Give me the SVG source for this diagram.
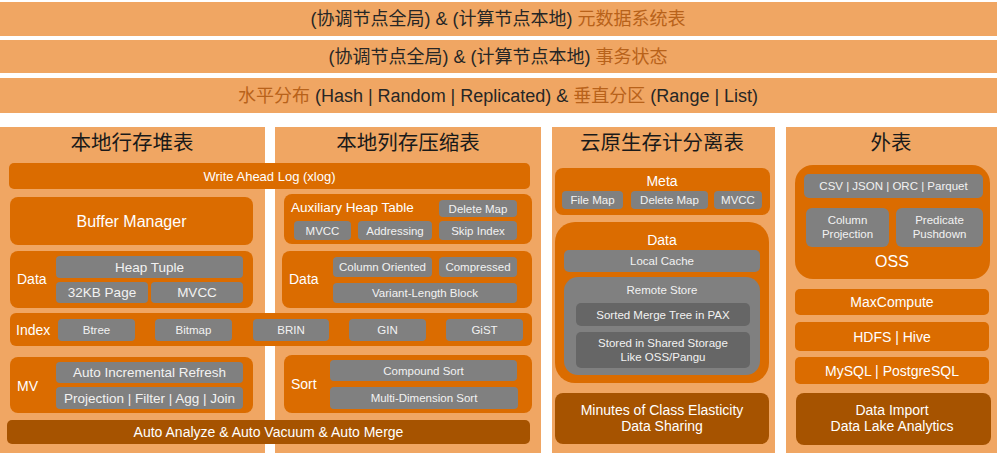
<svg xmlns="http://www.w3.org/2000/svg" width="999" height="455" viewBox="0 0 999 455">
<style>
text{font-family:"Liberation Sans","Noto Sans CJK SC",sans-serif;dominant-baseline:central;text-anchor:middle}
.ban{fill:#F0A663}
.panel{fill:#F0A663}
.dk{fill:#DB6C00}
.br{fill:#A65300}
.gr{fill:#808080}
.gr2{fill:#666666}
.bt{font-size:18px;fill:#262626}
.hl{fill:#B8621A}
.ttl{font-size:20.5px;fill:#1a1a1a}
.w{fill:#ffffff}
.g{fill:#f2f2f2}
.s11{font-size:11.5px}
.s13{font-size:13.5px}
.s14{font-size:14px}
.lab{text-anchor:start}
</style>
<g id="banner-meta">
<rect class="ban" x="0" y="2" width="997" height="34"/>
<text class="bt" x="498" y="19">(协调节点全局) &amp; (计算节点本地) <tspan class="hl">元数据系统表</tspan></text>
</g>
<g id="banner-tx">
<rect class="ban" x="0" y="40" width="997" height="33"/>
<text class="bt" x="498" y="57">(协调节点全局) &amp; (计算节点本地) <tspan class="hl">事务状态</tspan></text>
</g>
<g id="banner-dist">
<rect class="ban" x="0" y="78" width="997" height="35"/>
<text class="bt" x="498" y="96"><tspan class="hl">水平分布</tspan> (Hash | Random | Replicated) &amp; <tspan class="hl">垂直分区</tspan> (Range | List)</text>
</g>

<g id="col-row-heap">
<rect class="panel" x="0" y="127" width="265" height="326"/>
<text class="ttl" x="132" y="142">本地行存堆表</text>
</g>
<g id="col-column-store">
<rect class="panel" x="275" y="127" width="266" height="326"/>
<text class="ttl" x="408" y="142">本地列存压缩表</text>
</g>
<g id="col-cloud">
<rect class="panel" x="552" y="127" width="223" height="326"/>
<text class="ttl" x="662" y="142">云原生存计分离表</text>
</g>
<g id="col-external">
<rect class="panel" x="786" y="127" width="211" height="326"/>
<text class="ttl" x="891" y="142">外表</text>
</g>

<g id="wal">
<rect class="dk" x="9" y="163" width="521" height="26" rx="5"/>
<text class="w" x="269.5" y="176" font-size="13">Write Ahead Log (xlog)</text>
</g>
<g id="buffer-manager">
<rect class="dk" x="10" y="197" width="243" height="48" rx="8"/>
<text class="w" x="131.5" y="221" font-size="16">Buffer Manager</text>
</g>
<g id="row-data">
<rect class="dk" x="10" y="251" width="243" height="57" rx="8"/>
<text class="w s14 lab" x="17" y="279">Data</text>
<rect class="gr" x="56" y="256" width="187" height="22" rx="4"/>
<text class="g s13" x="149.5" y="267">Heap Tuple</text>
<rect class="gr" x="56" y="282" width="92" height="21" rx="4"/>
<text class="g s13" x="102" y="292.5">32KB Page</text>
<rect class="gr" x="151" y="282" width="92" height="21" rx="4"/>
<text class="g s13" x="197" y="292.5">MVCC</text>
</g>
<g id="index">
<rect class="dk" x="10" y="313" width="522" height="33" rx="6"/>
<text class="w s14 lab" x="16" y="330">Index</text>
<rect class="gr" x="58" y="319" width="77" height="22" rx="4"/>
<text class="g s11" x="96.5" y="330">Btree</text>
<rect class="gr" x="155" y="319" width="77" height="22" rx="4"/>
<text class="g s11" x="193.5" y="330">Bitmap</text>
<rect class="gr" x="253" y="319" width="76" height="22" rx="4"/>
<text class="g s11" x="291" y="330">BRIN</text>
<rect class="gr" x="349" y="319" width="77" height="22" rx="4"/>
<text class="g s11" x="387.5" y="330">GIN</text>
<rect class="gr" x="446" y="319" width="77" height="22" rx="4"/>
<text class="g s11" x="484.5" y="330">GiST</text>
</g>
<g id="mv">
<rect class="dk" x="10" y="357" width="243" height="56" rx="8"/>
<text class="w s14 lab" x="17" y="386">MV</text>
<rect class="gr" x="56" y="362" width="187" height="21" rx="4"/>
<text class="g s13" x="149.5" y="372.5">Auto Incremental Refresh</text>
<rect class="gr" x="56" y="387" width="187" height="22" rx="4"/>
<text class="g s13" x="149.5" y="398">Projection | Filter | Agg | Join</text>
</g>
<g id="auto-analyze">
<rect class="br" x="7" y="420" width="523" height="24" rx="5"/>
<text class="w s14" x="268.5" y="432">Auto Analyze &amp; Auto Vacuum &amp; Auto Merge</text>
</g>

<g id="aux-heap">
<rect class="dk" x="284" y="194" width="248" height="50" rx="8"/>
<text class="w s13 lab" x="291" y="207">Auxiliary Heap Table</text>
<rect class="gr" x="439" y="200" width="78" height="17" rx="4"/>
<text class="g s11" x="478" y="208.5">Delete Map</text>
<rect class="gr" x="294" y="221" width="57" height="19" rx="4"/>
<text class="g s11" x="322.5" y="230.5">MVCC</text>
<rect class="gr" x="358" y="221" width="74" height="19" rx="4"/>
<text class="g s11" x="395" y="230.5">Addressing</text>
<rect class="gr" x="439" y="221" width="78" height="19" rx="4"/>
<text class="g s11" x="478" y="230.5">Skip Index</text>
</g>
<g id="col-data">
<rect class="dk" x="282" y="251" width="250" height="57" rx="8"/>
<text class="w s14 lab" x="289" y="279">Data</text>
<rect class="gr" x="333" y="257" width="99" height="20" rx="4"/>
<text class="g s11" x="382.5" y="267">Column Oriented</text>
<rect class="gr" x="439" y="257" width="78" height="20" rx="4"/>
<text class="g s11" x="478" y="267">Compressed</text>
<rect class="gr" x="333" y="283" width="184" height="20" rx="4"/>
<text class="g s11" x="425" y="293">Variant-Length Block</text>
</g>
<g id="sort">
<rect class="dk" x="284" y="355" width="248" height="58" rx="8"/>
<text class="w s14 lab" x="291" y="384">Sort</text>
<rect class="gr" x="330" y="360" width="187" height="21" rx="4"/>
<text class="g s11" x="423.5" y="370.5">Compound Sort</text>
<rect class="gr" x="330" y="387" width="188" height="22" rx="4"/>
<text class="g s11" x="424" y="398">Multi-Dimension Sort</text>
</g>

<g id="meta">
<rect class="dk" x="555" y="168" width="215" height="47" rx="8"/>
<text class="w s14" x="662" y="181">Meta</text>
<rect class="gr" x="562" y="191" width="61" height="18" rx="4"/>
<text class="g s11" x="592.5" y="200">File Map</text>
<rect class="gr" x="631" y="191" width="77" height="18" rx="4"/>
<text class="g s11" x="669.5" y="200">Delete Map</text>
<rect class="gr" x="714" y="191" width="48" height="18" rx="4"/>
<text class="g s11" x="738" y="200">MVCC</text>
</g>
<g id="cloud-data">
<rect class="dk" x="555" y="222" width="214" height="161" rx="20"/>
<text class="w s14" x="662" y="240">Data</text>
<rect class="gr" x="564" y="250" width="196" height="22" rx="5"/>
<text class="g s11" x="662" y="261">Local Cache</text>
<rect class="gr" x="564" y="277" width="196" height="98" rx="14"/>
<text class="g s11" x="662" y="290">Remote Store</text>
<rect class="gr2" x="576" y="303" width="174" height="23" rx="5"/>
<text class="g s11" x="663" y="314.5">Sorted Merge Tree in PAX</text>
<rect class="gr2" x="576" y="332" width="174" height="36" rx="5"/>
<text class="g s11" x="663" y="343">Stored in Shared Storage</text>
<text class="g s11" x="663" y="357">Like OSS/Pangu</text>
</g>
<g id="elasticity">
<rect class="br" x="555" y="393" width="214" height="51" rx="8"/>
<text class="w s14" x="662" y="410">Minutes of Class Elasticity</text>
<text class="w s14" x="662" y="426">Data Sharing</text>
</g>

<g id="oss">
<rect class="dk" x="795" y="165" width="195" height="114" rx="18"/>
<rect class="gr" x="804" y="174" width="179" height="24" rx="5"/>
<text class="g s11" x="893.5" y="186">CSV | JSON | ORC | Parquet</text>
<rect class="gr" x="806" y="208" width="83" height="39" rx="6"/>
<text class="g s11" x="847.5" y="220">Column</text>
<text class="g s11" x="847.5" y="234">Projection</text>
<rect class="gr" x="896" y="208" width="87" height="39" rx="6"/>
<text class="g s11" x="939.5" y="220">Predicate</text>
<text class="g s11" x="939.5" y="234">Pushdown</text>
<text class="w" x="892" y="261" font-size="16">OSS</text>
</g>
<g id="maxcompute">
<rect class="dk" x="795" y="289" width="194" height="26" rx="5"/>
<text class="w s14" x="892" y="302">MaxCompute</text>
</g>
<g id="hdfs">
<rect class="dk" x="795" y="322" width="194" height="29" rx="5"/>
<text class="w s14" x="892" y="336.5">HDFS | Hive</text>
</g>
<g id="mysql">
<rect class="dk" x="795" y="357" width="194" height="27" rx="5"/>
<text class="w s14" x="892" y="370.5">MySQL | PostgreSQL</text>
</g>
<g id="data-import">
<rect class="br" x="796" y="393" width="195" height="52" rx="8"/>
<text class="w s14" x="892" y="410">Data Import</text>
<text class="w s14" x="892" y="426">Data Lake Analytics</text>
</g>
</svg>
